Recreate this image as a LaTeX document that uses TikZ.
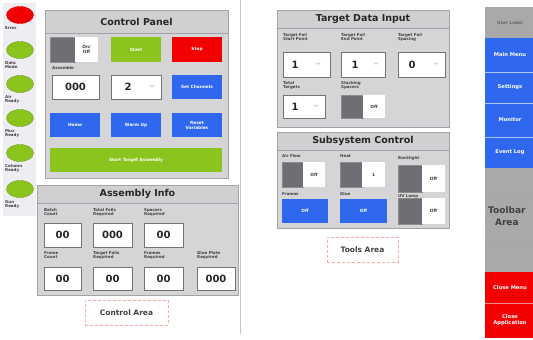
\documentclass[tikz,border=0pt]{standalone}
\usepackage{fontspec}
\setmainfont{DejaVu Sans}
\usetikzlibrary{shapes.geometric}
\definecolor{uigreen}{HTML}{8CC41E}
\definecolor{uired}{HTML}{F20000}
\definecolor{uiblue}{HTML}{2F68EE}
\definecolor{panelgray}{HTML}{D5D5D7}
\definecolor{titlegray}{HTML}{D0D0D2}
\definecolor{bordergray}{HTML}{A4A4A8}
\definecolor{toggray}{HTML}{6E6E74}
\definecolor{stripgray}{HTML}{EDEDF2}
\definecolor{toolgray}{HTML}{A9A9AB}
\definecolor{sepgray}{HTML}{C4C4C8}
\newcommand\btnfont{\bfseries\fontsize{4.3}{5}\selectfont}
\newcommand\lblfont{\bfseries\fontsize{4}{4.6}\selectfont}
\newcommand\numfont{\bfseries\fontsize{10}{11}\selectfont}
\newcommand\boxat[7]{\node[#2, minimum width={#5pt-#3pt}, minimum height={#6pt-#4pt}] (#1) at ({(#3+#5)/2},{(#4+#6)/2}) {#7};}
\newcommand\chev[2]{\draw[black!35, line width=0.5pt] (#1-2,#2-0.8) -- (#1,#2+0.8) -- (#1+2,#2-0.8);}
\begin{document}
\begin{tikzpicture}[x=1pt,y=-1pt,
  base/.style={rectangle, inner sep=0pt, outer sep=0pt, align=center},
  cpanel/.style={base, fill=panelgray, draw=bordergray, line width=0.8pt},
  tbar/.style={base, fill=titlegray, draw=bordergray, line width=0.6pt, font=\bfseries\fontsize{9.5}{11}\selectfont, text=black!85},
  gbtn/.style={base, fill=uigreen, text=white, font=\btnfont},
  rbtn/.style={base, fill=uired, text=white, font=\btnfont},
  bbtn/.style={base, fill=uiblue, text=white, font=\btnfont},
  tbtn/.style={font=\bfseries\fontsize{5.2}{6}\selectfont},
  infield/.style={base, fill=white, draw=black!55, line width=1pt, font=\numfont, text=black!85},
  darktog/.style={base, fill=toggray, draw=black!45, line width=0.4pt},
  whitetog/.style={base, fill=white, font=\btnfont, text=black!75},
  lbl/.style={inner sep=0pt, anchor=north west, align=left, font=\lblfont, text=black!75},
  num/.style={inner sep=0pt, font=\numfont, text=black!85},
  arealbl/.style={base, draw=red!35, densely dashed, line width=0.5pt, font=\bfseries\fontsize{7.5}{9}\selectfont, text=black!75},
  lamp/.style={ellipse, minimum width=27pt, minimum height=17pt, inner sep=0pt},
]
\useasboundingbox (0,0) rectangle (533,340);
\fill[white] (0,0) rectangle (533,340);
\clip (0,0) rectangle (533,340);

% separator
\draw[sepgray, line width=0.8pt] (240,0) -- (240,334);

% ---------- left status strip ----------
\boxat{strip}{base, fill=stripgray}{3}{3}{36}{216}{}
\node[lamp, fill=uired, draw=uired!85!black, line width=0.4pt] (lerr) at (20,15) {};
\node[lbl] (terr) at (5,26) {Error};
\node[lamp, fill=uigreen, draw=uigreen!80!black, line width=0.4pt] (l1) at (20,50) {};
\node[lbl] (t1) at (5,61) {Data\\Mode};
\node[lamp, fill=uigreen, draw=uigreen!80!black, line width=0.4pt] (l2) at (20,84) {};
\node[lbl] (t2) at (5,95) {Air\\Ready};
\node[lamp, fill=uigreen, draw=uigreen!80!black, line width=0.4pt] (l3) at (20,118) {};
\node[lbl] (t3) at (5,129) {Mux\\Ready};
\node[lamp, fill=uigreen, draw=uigreen!80!black, line width=0.4pt] (l4) at (20,153) {};
\node[lbl] (t4) at (5,164) {Column\\Ready};
\node[lamp, fill=uigreen, draw=uigreen!80!black, line width=0.4pt] (l5) at (20,189) {};
\node[lbl] (t5) at (5,200) {Gun\\Ready};

% ---------- Control Panel ----------
\boxat{cp}{cpanel}{45}{10}{228}{178}{}
\boxat{cpt}{tbar}{45}{10}{228}{33}{Control Panel}
\boxat{cptogd}{darktog}{50}{37}{75}{62}{}
\boxat{cptogw}{whitetog}{75}{37}{98}{62}{On/\\Off}
\boxat{start}{gbtn}{111}{37}{161}{62}{Start}
\boxat{stop}{rbtn}{172}{37}{222}{62}{Stop}
\node[lbl] (asml) at (52,66) {Assemble};
\boxat{asmf}{infield}{52}{75}{99}{99}{000}
\boxat{chf}{infield}{111}{75}{161}{99}{}
\node[num] (chn) at (128,87) {2};
\chev{152}{86}
\boxat{setch}{bbtn}{172}{75}{222}{99}{Set Channels}
\boxat{home}{bbtn}{50}{113}{100}{137}{Home}
\boxat{warm}{bbtn}{111}{113}{161}{137}{Warm Up}
\boxat{reset}{bbtn}{172}{113}{222}{137}{Reset\\Variables}
\boxat{sta}{gbtn}{50}{148}{222}{172}{Start Target Assembly}

% ---------- Assembly Info ----------
\boxat{ai}{cpanel}{37}{185}{238}{295}{}
\boxat{ait}{tbar}{37}{185}{238}{203}{Assembly Info}
\node[lbl] (a1l) at (44,208) {Batch\\Count};
\node[lbl] (a2l) at (93,208) {Total Foils\\Required};
\node[lbl] (a3l) at (144,208) {Spacers\\Required};
\boxat{a1}{infield}{44}{223}{81}{247}{00}
\boxat{a2}{infield}{93}{223}{132}{247}{000}
\boxat{a3}{infield}{144}{223}{183}{247}{00}
\node[lbl] (b1l) at (44,251) {Frame\\Count};
\node[lbl] (b2l) at (93,251) {Target Foils\\Required};
\node[lbl] (b3l) at (144,251) {Frames\\Required};
\node[lbl] (b4l) at (197,251) {Glue Plate\\Required};
\boxat{b1}{infield}{44}{267}{81}{290}{00}
\boxat{b2}{infield}{93}{267}{132}{290}{00}
\boxat{b3}{infield}{144}{267}{183}{290}{00}
\boxat{b4}{infield}{197}{267}{235}{290}{000}
\boxat{carea}{arealbl}{85}{300}{168}{325}{Control Area}

% ---------- Target Data Input ----------
\boxat{td}{cpanel}{277}{10}{449}{127}{}
\boxat{tdt}{tbar}{277}{10}{449}{28}{Target Data Input}
\node[lbl] (tl1) at (283,33) {Target Foil\\Start Point};
\node[lbl] (tl2) at (341,33) {Target Foil\\End Point};
\node[lbl] (tl3) at (398,33) {Target Foil\\Spacing};
\boxat{tf1}{infield}{283}{52}{330}{77}{}
\node[num] (tn1) at (295,64.5) {1};
\chev{318}{63.5}
\boxat{tf2}{infield}{341}{52}{385}{77}{}
\node[num] (tn2) at (355,64.5) {1};
\chev{376}{63.5}
\boxat{tf3}{infield}{398}{52}{445}{77}{}
\node[num] (tn3) at (412,64.5) {0};
\chev{436}{63.5}
\node[lbl] (tl4) at (283,81) {Total\\Targets};
\node[lbl] (tl5) at (341,81) {Stacking\\Spacers};
\boxat{tf4}{infield}{283}{95}{325}{118}{}
\node[num] (tn4) at (295,106.5) {1};
\chev{316}{105.5}
\boxat{sstd}{darktog}{341}{95}{363}{118}{}
\boxat{sstw}{whitetog}{363}{95}{385}{118}{Off}

% ---------- Subsystem Control ----------
\boxat{sc}{cpanel}{277}{132}{449}{228}{}
\boxat{sct}{tbar}{277}{132}{449}{150}{Subsystem Control}
\node[lbl] (sl1) at (282,154) {Air Flow};
\node[lbl] (sl2) at (340,154) {Heat};
\node[lbl] (sl3) at (398,156) {Backlight};
\boxat{s1d}{darktog}{282}{162}{303}{187}{}
\boxat{s1w}{whitetog}{303}{162}{325}{187}{Off}
\boxat{s2d}{darktog}{340}{162}{362}{187}{}
\boxat{s2w}{whitetog}{362}{162}{385}{187}{1}
\boxat{s3d}{darktog}{398}{165}{422}{192}{}
\boxat{s3w}{whitetog}{422}{165}{445}{192}{Off}
\node[lbl] (sl4) at (282,192) {Frames};
\node[lbl] (sl5) at (340,192) {Glue};
\node[lbl] (sl6) at (398,194) {UV Lamp};
\boxat{frames}{bbtn}{282}{199}{328}{223}{Off}
\boxat{glue}{bbtn}{340}{199}{387}{223}{Off}
\boxat{s6d}{darktog}{398}{198}{422}{224}{}
\boxat{s6w}{whitetog}{422}{198}{445}{224}{Off}
\boxat{tarea}{arealbl}{327}{237}{398}{262}{Tools Area}

% ---------- Toolbar ----------
\boxat{tb}{base, fill=toolgray}{485}{7}{535}{338}{}
\boxat{tbh}{base, fill=toolgray, font=\btnfont, text=black!60}{485}{7}{535}{38}{User Label}
\boxat{mm}{bbtn, tbtn}{485}{38}{535}{72}{Main Menu}
\boxat{set}{bbtn, tbtn}{485}{72}{535}{103}{Settings}
\boxat{mon}{bbtn, tbtn}{485}{103}{535}{137}{Monitor}
\boxat{evl}{bbtn, tbtn}{485}{137}{535}{168}{Event Log}
\draw[white!60!uiblue, line width=0.5pt] (mm.south west) -- (mm.south east);
\draw[white!60!uiblue, line width=0.5pt] (set.south west) -- (set.south east);
\draw[white!60!uiblue, line width=0.5pt] (mon.south west) -- (mon.south east);
\boxat{tarea2}{arealbl, draw=black!35}{487}{197}{540}{240}{}
\node[inner sep=0pt, anchor=north west, align=center, font=\bfseries\fontsize{9}{12}\selectfont, text=black!75] (tarea2t) at (488,206) {Toolbar\\Area};
\boxat{cm}{rbtn, tbtn}{485}{272}{535}{303}{Close Menu}
\boxat{ca}{rbtn, tbtn}{485}{303}{535}{338}{Close\\Application}
\draw[white!55!uired, line width=0.5pt] (cm.south west) -- (cm.south east);
\end{tikzpicture}
\end{document}
